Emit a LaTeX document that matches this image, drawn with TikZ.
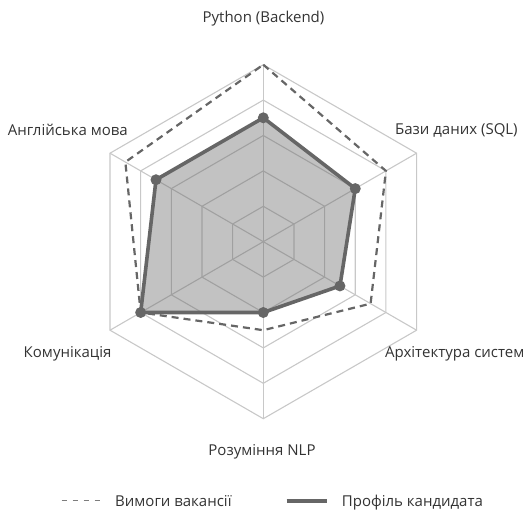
\documentclass[tikz,border=0pt]{standalone}
\usepackage{fontspec}
\setmainfont{Open Sans}
\definecolor{gridgray}{HTML}{C8C8C8}
\definecolor{linegray}{HTML}{666666}
\definecolor{textgray}{HTML}{333333}
\begin{document}
\begin{tikzpicture}[x=1pt,y=1pt,
  gridline/.style={draw=gridgray,line width=1.1pt},
  reqline/.style={draw=linegray,line width=2.2pt,dash pattern=on 7pt off 5pt},
  candline/.style={draw=linegray,line width=3.6pt,line join=round,fill=linegray,fill opacity=0.4},
  dotmark/.style={circle,fill=linegray,inner sep=0pt,minimum size=11pt},
  axislabel/.style={font=\fontsize{15}{17}\selectfont,text=textgray,inner sep=0pt,text height=11pt,text depth=3pt},
  legendtext/.style={font=\fontsize{15}{17}\selectfont,text=textgray,inner sep=0pt,text height=11pt,text depth=3pt}]
\useasboundingbox (0,0) rectangle (531,512);
\def\unit{35.4}
\begin{scope}[shift={(263.3,270.3)}]
  % concentric hexagons
  \foreach \k in {1,...,5}{
    \draw[gridline] (90:\k*\unit) -- (30:\k*\unit) -- (-30:\k*\unit) -- (-90:\k*\unit)
      -- (210:\k*\unit) -- (150:\k*\unit) -- cycle;
  }
  % spokes
  \coordinate (c) at (0,0);
  \foreach \a in {90,30,-30,-90,210,150}{
    \draw[gridline] (c) -- (\a:5*\unit);
  }
  % requirement polygon
  \coordinate (r1) at (90:5*\unit);
  \coordinate (r2) at (30:4*\unit);
  \coordinate (r3) at (-30:3.5*\unit);
  \coordinate (r4) at (-90:2.5*\unit);
  \coordinate (r5) at (210:4*\unit);
  \coordinate (r6) at (150:4.5*\unit);
  \draw[reqline] (r1) -- (r2) -- (r3) -- (r4) -- (r5) -- (r6) -- cycle;
  % candidate polygon
  \coordinate (p1) at (90:3.5*\unit);
  \coordinate (p2) at (30:3*\unit);
  \coordinate (p3) at (-30:2.5*\unit);
  \coordinate (p4) at (-90:2*\unit);
  \coordinate (p5) at (210:4*\unit);
  \coordinate (p6) at (150:3.5*\unit);
  \draw[candline] (p1) -- (p2) -- (p3) -- (p4) -- (p5) -- (p6) -- cycle;
  \foreach \p in {p1,p2,p3,p4,p5,p6}{
    \node[dotmark] at (\p) {};
  }
\end{scope}
% axis labels
\node[axislabel] (lpy) at (263.5,493.7) {Python (Backend)};
\node[axislabel,anchor=west] (ldb) at (395,381.3) {Бази даних (SQL)};
\node[axislabel,anchor=west] (lar) at (385,158) {Архітектура систем};
\node[axislabel] (lnlp) at (262,60.3) {Розуміння NLP};
\node[axislabel,anchor=east] (lcom) at (111.7,158) {Комунікація};
\node[axislabel,anchor=east] (len) at (128,380.3) {Англійська мова};
% legend
\coordinate (la) at (61.7,11.3);
\coordinate (lb) at (100,11.3);
\draw[reqline,line width=1.3pt,dash pattern=on 5pt off 6pt,draw=linegray!85] (la) -- (lb);
\node[legendtext,anchor=west] (lreq) at (115,9) {Вимоги вакансії};
\coordinate (lc) at (286.7,11.3);
\coordinate (ld) at (326.7,11.3);
\draw[draw=linegray,line width=4pt] (lc) -- (ld);
\node[legendtext,anchor=west] (lcand) at (341.7,9) {Профіль кандидата};
\end{tikzpicture}
\end{document}
